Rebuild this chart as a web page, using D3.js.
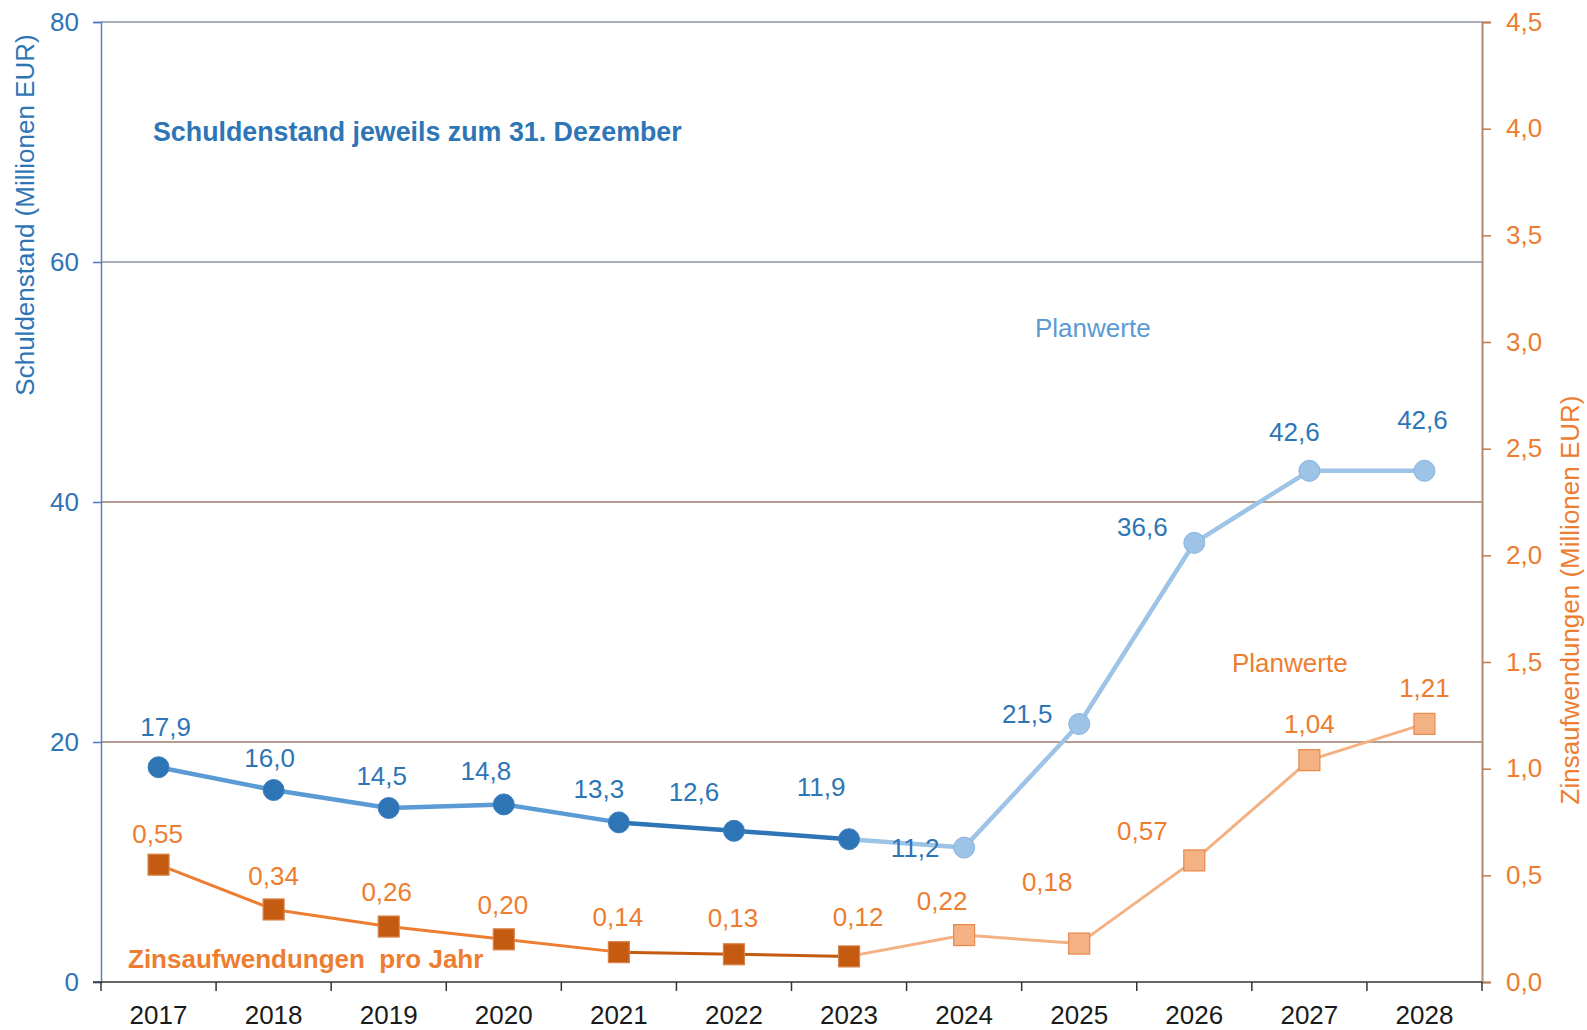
<!DOCTYPE html>
<html>
<head>
<meta charset="utf-8">
<script src="https://cdn.jsdelivr.net/npm/d3@7"></script>
<style>
  body { margin: 0; background: #fff; }
  svg { display: block; font-family: "Liberation Sans", Arial, sans-serif; }
</style>
</head>
<body>
<svg id="chart" width="1587" height="1030"></svg>
<script>
// years on the x axis
var years = ['2017', '2018', '2019', '2020', '2021', '2022', '2023', '2024', '2025', '2026', '2027', '2028'];
// Schuldenstand (Mio EUR), left axis
var debt = [17.9, 16.0, 14.5, 14.8, 13.3, 12.6, 11.9, 11.2, 21.5, 36.6, 42.6, 42.6];
// Zinsaufwendungen (Mio EUR), right axis
var interest = [0.55, 0.34, 0.26, 0.20, 0.14, 0.13, 0.12, 0.22, 0.18, 0.57, 1.04, 1.21];
// index of first planned value
var FIRST_PLAN = 7;
var leftTicks = [0, 20, 40, 60, 80];
var rightTicks = [0, 0.5, 1, 1.5, 2, 2.5, 3, 3.5, 4, 4.5];

// label offsets relative to the marker (label placement of the original)
var debtLabelOffset = [[7, -40], [-4, -32], [-7, -32], [-18, -34], [-20, -34], [-40, -39], [-28, -52],
                       [-49, 0], [-52, -10], [-52, -16], [-15, -39], [-2, -51]];
var interestLabelOffset = [[-1, -31], [0, -34], [-2, -35], [-1, -34], [-1, -35], [-1, -36], [9, -40],
                           [-22, -34], [-32, -62], [-52, -30], [0, -36], [0, -36]];

var BLUE = '#2e75b6', BLUE_MID = '#5b9bd5', BLUE_LIGHT = '#9dc3e6';
var ORANGE = '#ed7d31', ORANGE_DARK = '#c55a11', ORANGE_LIGHT = '#f4b183';
var FS = '26px';

var svg = d3.select('#chart');
var pLeft = 101, pRight = 1482, pTop = 22, pBottom = 982;

var x = d3.scaleBand().domain(years).range([pLeft, pRight]);
var yL = d3.scaleLinear().domain([0, 80]).range([pBottom, pTop]);
var yR = d3.scaleLinear().domain([0, 4.5]).range([pBottom, pTop]);
var cx = function(i) { return x(years[i]) + x.bandwidth() / 2; };
var fmt1 = function(v) { return d3.format('.1f')(v).replace('.', ','); };
var fmt2 = function(v) { return d3.format('.2f')(v).replace('.', ','); };

// gridlines
svg.append('g').selectAll('line')
    .data([20, 40, 60, 80])
    .enter().append('line')
    .attr('x1', pLeft).attr('x2', pRight)
    .attr('y1', function(d) { return yL(d); })
    .attr('y2', function(d) { return yL(d); })
    .attr('stroke', function(d) { return d >= 60 ? '#8a93a3' : '#9c7e6a'; })
    .attr('stroke-width', 1.5);

// left axis
var axL = svg.append('g')
    .attr('transform', 'translate(' + pLeft + ',0)')
    .call(d3.axisLeft(yL).tickValues(leftTicks).tickSize(8).tickPadding(14).tickFormat(d3.format('d')));
axL.select('.domain').attr('stroke', '#5b80b4').attr('stroke-width', 1.5);
axL.selectAll('.tick line').attr('stroke', '#4a7cc0').attr('stroke-width', 1.5);
axL.selectAll('.tick text').attr('fill', BLUE).style('font-size', FS);

// right axis
var axR = svg.append('g')
    .attr('transform', 'translate(' + pRight + ',0)')
    .call(d3.axisRight(yR).tickValues(rightTicks).tickSize(9).tickPadding(15).tickFormat(fmt1));
axR.select('.domain').attr('stroke', '#b08a70').attr('stroke-width', 2);
axR.selectAll('.tick line').attr('stroke', '#c07a4a').attr('stroke-width', 1.5);
axR.selectAll('.tick text').attr('fill', ORANGE).style('font-size', FS);

// bottom axis: ticks between categories
var axB = svg.append('g').attr('transform', 'translate(0,' + pBottom + ')');
axB.append('line').attr('x1', pLeft - 8).attr('x2', pRight).attr('stroke', '#333').attr('stroke-width', 1.5);
axB.selectAll('line.tk')
    .data(d3.range(years.length + 1))
    .enter().append('line')
    .attr('class', 'tk')
    .attr('x1', function(i) { return pLeft + i * x.bandwidth(); })
    .attr('x2', function(i) { return pLeft + i * x.bandwidth(); })
    .attr('y1', 0).attr('y2', 9)
    .attr('stroke', '#333').attr('stroke-width', 1.5);
axB.selectAll('text')
    .data(years)
    .enter().append('text')
    .attr('x', function(d, i) { return cx(i); })
    .attr('y', 42)
    .attr('text-anchor', 'middle')
    .attr('fill', '#1a1a1a')
    .style('font-size', FS)
    .text(function(d) { return d; });

// axis titles
svg.append('text')
    .attr('transform', 'translate(34,215) rotate(-90)')
    .attr('text-anchor', 'middle')
    .attr('fill', BLUE)
    .style('font-size', FS)
    .text('Schuldenstand (Millionen EUR)');
svg.append('text')
    .attr('transform', 'translate(1579,600) rotate(-90)')
    .attr('text-anchor', 'middle')
    .attr('fill', ORANGE)
    .style('font-size', FS)
    .text('Zinsaufwendungen (Millionen EUR)');

// annotations
svg.append('text').attr('x', 153).attr('y', 141).attr('fill', BLUE)
    .style('font-size', '26.8px').style('font-weight', 'bold')
    .text('Schuldenstand jeweils zum 31. Dezember');
svg.append('text').attr('x', 128).attr('y', 968).attr('fill', ORANGE)
    .style('font-size', '26px').style('font-weight', 'bold')
    .attr('xml:space', 'preserve')
    .text('Zinsaufwendungen  pro Jahr');
svg.append('text').attr('x', 1035).attr('y', 337).attr('fill', BLUE_MID)
    .style('font-size', FS).text('Planwerte');
svg.append('text').attr('x', 1232).attr('y', 672).attr('fill', ORANGE)
    .style('font-size', FS).text('Planwerte');

// line segments, coloured by actual / planned
function segColor(i, kind) {
    // segment from i to i+1
    if (kind === 'debt') {
        if (i >= FIRST_PLAN - 1) return BLUE_LIGHT;
        return i >= 4 ? BLUE : BLUE_MID;
    }
    if (i >= FIRST_PLAN - 1) return ORANGE_LIGHT;
    return i >= 4 ? ORANGE_DARK : ORANGE;
}

function drawSeries(values, scale, kind, width) {
    var g = svg.append('g');
    g.selectAll('line')
        .data(d3.range(values.length - 1))
        .enter().append('line')
        .attr('x1', function(i) { return cx(i); })
        .attr('y1', function(i) { return scale(values[i]); })
        .attr('x2', function(i) { return cx(i + 1); })
        .attr('y2', function(i) { return scale(values[i + 1]); })
        .attr('stroke', function(i) { return segColor(i, kind); })
        .attr('stroke-width', width)
        .attr('stroke-linecap', 'round');
    return g;
}

var debtG = drawSeries(debt, yL, 'debt', 4.5);
debtG.selectAll('circle')
    .data(debt)
    .enter().append('circle')
    .attr('cx', function(d, i) { return cx(i); })
    .attr('cy', function(d) { return yL(d); })
    .attr('r', 10.5)
    .attr('fill', function(d, i) { return i >= FIRST_PLAN ? BLUE_LIGHT : BLUE; })
    .attr('stroke', function(d, i) { return i >= FIRST_PLAN ? '#86b4e0' : '#3d7fc0'; })
    .attr('stroke-width', 1);

var intG = drawSeries(interest, yR, 'int', 3);
var SQ = 21;
intG.selectAll('rect')
    .data(interest)
    .enter().append('rect')
    .attr('x', function(d, i) { return cx(i) - SQ / 2; })
    .attr('y', function(d) { return yR(d) - SQ / 2; })
    .attr('width', SQ).attr('height', SQ)
    .attr('fill', function(d, i) { return i >= FIRST_PLAN ? ORANGE_LIGHT : ORANGE_DARK; })
    .attr('stroke', function(d, i) { return i >= FIRST_PLAN ? '#e8894a' : '#d9844a'; })
    .attr('stroke-width', 1.2);

// data labels
svg.append('g').selectAll('text')
    .data(debt)
    .enter().append('text')
    .attr('x', function(d, i) { return cx(i) + debtLabelOffset[i][0]; })
    .attr('y', function(d, i) { return yL(d) + debtLabelOffset[i][1]; })
    .attr('dy', '0.35em')
    .attr('text-anchor', 'middle')
    .attr('fill', BLUE)
    .style('font-size', FS)
    .text(fmt1);

svg.append('g').selectAll('text')
    .data(interest)
    .enter().append('text')
    .attr('x', function(d, i) { return cx(i) + interestLabelOffset[i][0]; })
    .attr('y', function(d, i) { return yR(d) + interestLabelOffset[i][1]; })
    .attr('dy', '0.35em')
    .attr('text-anchor', 'middle')
    .attr('fill', ORANGE)
    .style('font-size', FS)
    .text(fmt2);
</script>
</body>
</html>
